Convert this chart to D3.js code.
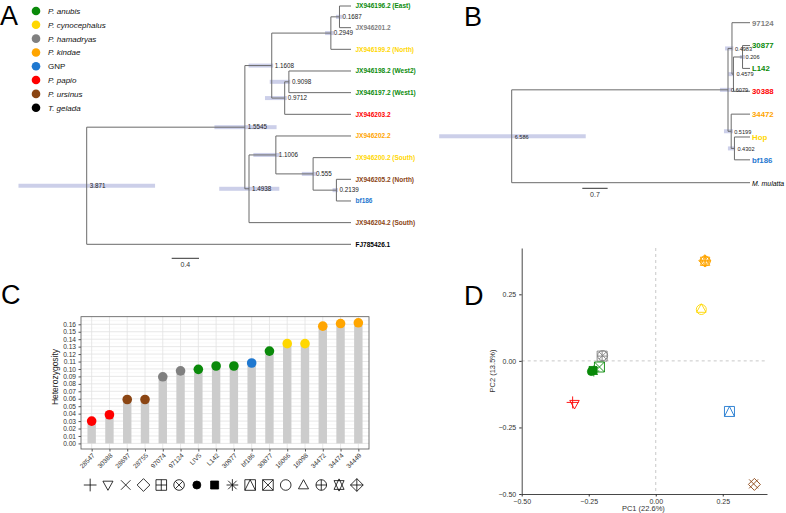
<!DOCTYPE html>
<html>
<head>
<meta charset="utf-8">
<script src="https://cdn.jsdelivr.net/npm/d3@7"></script>
<style>
body { margin: 0; background: #fff; }
svg { display: block; font-family: 'Liberation Sans', Arial, sans-serif; }
</style>
</head>
<body>
<div id="root"></div>
<script>
// groups / colours
var groupNames = ['P. anubis', 'P. cynocephalus', 'P. hamadryas', 'P. kindae', 'GNP', 'P. papio', 'P. ursinus', 'T. gelada'];
var groupColors = ['#0a8a0a', '#ffd700', '#808080', '#ffa500', '#1f78d0', '#ff0000', '#8b4513', '#000000'];

// tree A (mtDNA dated tree)
var aNode = ['r', 'a1', 'a2', 'a3', 'a4', 'a5', 'a6', 'a7', 'a8', 'a9', 'a10'];
var aNodeParent = ['', 'r', 'a1', 'a2', 'a3', 'a2', 'a5', 'a1', 'a7', 'a8', 'a9'];
var aNodeAge = [3.871, 1.5545, 1.1608, 0.2949, 0.1687, 0.9712, 0.9098, 1.4938, 1.1006, 0.555, 0.2139];
var aHpdLo = [2.87, 1.09, 1.14, 0.25, 0.12, 0.94, 0.89, 1.05, 1.04, 0.50, 0.19];
var aHpdHi = [4.87, 2.00, 1.50, 0.38, 0.22, 1.26, 1.19, 1.93, 1.43, 0.72, 0.27];
var aTip = ['JX946196.2 (East)', 'JX946201.2', 'JX946199.2 (North)', 'JX946198.2 (West2)', 'JX946197.2 (West1)', 'JX946203.2',
  'JX946202.2', 'JX946200.2 (South)', 'JX946205.2 (North)', 'bf186', 'JX946204.2 (South)', 'FJ785426.1'];
var aTipParent = ['a4', 'a4', 'a3', 'a6', 'a6', 'a5', 'a8', 'a9', 'a10', 'a10', 'a7', 'r'];
var aTipGroup = [0, 2, 1, 0, 0, 5, 3, 1, 6, 4, 6, 7];

// tree B
var bNode = ['r', 'b1', 'b2', 'b3', 'b4', 'b5', 'b6'];
var bNodeParent = ['', 'r', 'b1', 'b2', 'b3', 'b1', 'b5'];
var bNodeAge = [6.586, 0.6079, 0.4983, 0.4579, 0.206, 0.5199, 0.4302];
var bHpdLo = [4.54, 0.50, 0.46, 0.44, 0.14, 0.47, 0.41];
var bHpdHi = [8.59, 0.83, 0.69, 0.60, 0.28, 0.72, 0.61];
var bTip = ['97124', '30877', 'L142', '30388', '34472', 'Hop', 'bf186', 'M. mulatta'];
var bTipParent = ['b2', 'b4', 'b4', 'b3', 'b5', 'b6', 'b6', 'r'];
var bTipGroup = [2, 0, 0, 5, 3, 1, 4, 7];

// panel C
var cSample = ['28547', '30388', '28697', '28755', '97074', '97124', 'LIV5', 'L142', '30977', 'bf186', '30877', '16066', '16098', '34472', '34474', '34449'];
var cHet = [0.030, 0.0385, 0.059, 0.059, 0.0895, 0.0975, 0.0995, 0.104, 0.104, 0.108, 0.124, 0.134, 0.134, 0.1575, 0.161, 0.162];
var cGroup = [5, 5, 6, 6, 2, 2, 0, 0, 0, 4, 0, 1, 1, 3, 3, 3];
var cPch = [3, 6, 4, 5, 12, 13, 16, 15, 8, 14, 7, 1, 2, 10, 11, 9];

// panel D (PCA)
var dPC1 = [-0.31, -0.303, 0.365, 0.368, -0.2, -0.198, -0.24, -0.234, -0.231, 0.275, -0.21, 0.17, 0.17, 0.185, 0.184, 0.183];
var dPC2 = [-0.156, -0.162, -0.462, -0.464, 0.018, 0.02, -0.04, -0.036, -0.038, -0.19, -0.023, 0.193, 0.196, 0.375, 0.374, 0.376];
var dTicks = [-0.5, -0.25, 0, 0.25];

var W = 786, H = 513;
var svg = d3.select('#root').append('svg').attr('width', W).attr('height', H);
var fmt2 = d3.format('.2f');

// panel letters
[['A', 0, 25], ['B', 464, 26], ['C', 1, 304], ['D', 464, 305]].forEach(function(l) {
  svg.append('text').attr('x', l[1]).attr('y', l[2]).attr('font-size', 27).text(l[0]);
});

// legend
var leg = svg.append('g');
var legY = d3.scalePoint().domain(groupNames).range([11, 107.7]);
leg.selectAll('circle').data(groupNames).enter().append('circle')
  .attr('cx', 36).attr('cy', function(d) { return legY(d); }).attr('r', 4.3)
  .attr('fill', function(d, i) { return groupColors[i]; });
leg.selectAll('text').data(groupNames).enter().append('text')
  .attr('x', 48).attr('y', function(d) { return legY(d) + 3; })
  .attr('font-size', 8).attr('font-style', function(d) { return d === 'GNP' ? 'normal' : 'italic'; })
  .attr('fill', '#111').text(function(d) { return d; });

// generic dated tree
var drawTree = function(cfg) {
  var g = svg.append('g');
  var rows = cfg.node.map(function(id, i) {
    return {id: id, parent: cfg.nodeParent[i], age: cfg.nodeAge[i], lo: cfg.hpdLo[i], hi: cfg.hpdHi[i]};
  }).concat(cfg.tip.map(function(id, i) {
    return {id: id, parent: cfg.tipParent[i], age: 0, group: cfg.tipGroup[i], tip: true};
  }));
  var root = d3.stratify().id(function(d) { return d.id; })
    .parentId(function(d) { return d.parent || null; })(rows);
  var x = d3.scaleLinear().domain([cfg.nodeAge[0], 0]).range([cfg.x0, cfg.x1]);
  var y = d3.scalePoint().domain(cfg.tip).range([cfg.y0, cfg.y1]);
  root.eachAfter(function(n) {
    n.px = x(n.data.age);
    n.py = n.children ? d3.mean(n.children, function(c) { return c.py; }) : y(n.id);
  });
  var inner = root.descendants().filter(function(n) { return n.children; });
  // HPD bars
  g.selectAll('rect.hpd').data(inner).enter().append('rect')
    .attr('x', function(n) { return x(n.data.hi); })
    .attr('width', function(n) { return x(n.data.lo) - x(n.data.hi); })
    .attr('y', function(n) { return n.py - 2; }).attr('height', 4)
    .attr('fill', '#c3c7e5').attr('opacity', 0.85);
  // branches
  g.selectAll('line.h').data(root.descendants().slice(1)).enter().append('line')
    .attr('x1', function(n) { return n.parent.px; }).attr('x2', function(n) { return n.px; })
    .attr('y1', function(n) { return n.py; }).attr('y2', function(n) { return n.py; })
    .attr('stroke', '#6a6a6a').attr('stroke-width', 1);
  g.selectAll('line.v').data(inner).enter().append('line')
    .attr('x1', function(n) { return n.px; }).attr('x2', function(n) { return n.px; })
    .attr('y1', function(n) { return d3.min(n.children, function(c) { return c.py; }); })
    .attr('y2', function(n) { return d3.max(n.children, function(c) { return c.py; }); })
    .attr('stroke', '#6a6a6a').attr('stroke-width', 1);
  // node ages
  g.selectAll('text.age').data(inner).enter().append('text')
    .attr('x', function(n) { return n.px + 3; }).attr('y', function(n) { return n.py + 2.3; })
    .attr('font-size', cfg.ageSize).attr('fill', '#222')
    .text(function(n) { return n.data.age; });
  // tips
  var outgroup = function(n) { return n.data.group === 7 && cfg.italicOut; };
  g.selectAll('text.tip').data(root.leaves()).enter().append('text')
    .attr('x', cfg.x1 + cfg.gap).attr('y', function(n) { return n.py + cfg.tipSize * 0.36; })
    .attr('font-size', function(n) { return outgroup(n) ? 6.9 : cfg.tipSize; })
    .attr('font-weight', function(n) { return outgroup(n) ? 'normal' : 'bold'; })
    .attr('font-style', function(n) { return outgroup(n) ? 'italic' : 'normal'; })
    .attr('fill', function(n) { return groupColors[n.data.group]; })
    .text(function(n) { return n.id; });
  // scale bar
  var sx = x(cfg.nodeAge[0] - cfg.bar);
  g.append('line').attr('x1', cfg.barX).attr('x2', cfg.barX + sx - cfg.x0)
    .attr('y1', cfg.barY).attr('y2', cfg.barY).attr('stroke', '#333');
  g.append('text').attr('x', cfg.barX + (sx - cfg.x0) / 2).attr('y', cfg.barY + 9)
    .attr('text-anchor', 'middle').attr('font-size', 7).attr('fill', '#333').text(cfg.bar);
};

drawTree({node: aNode, nodeParent: aNodeParent, nodeAge: aNodeAge, hpdLo: aHpdLo, hpdHi: aHpdHi,
  tip: aTip, tipParent: aTipParent, tipGroup: aTipGroup,
  x0: 86.7, x1: 351, y0: 6, y1: 244.3, gap: 4.5, tipSize: 6.5, ageSize: 6.3,
  bar: 0.4, barX: 171.7, barY: 258.3, italicOut: false});

drawTree({node: bNode, nodeParent: bNodeParent, nodeAge: bNodeAge, hpdLo: bHpdLo, hpdHi: bHpdHi,
  tip: bTip, tipParent: bTipParent, tipGroup: bTipGroup,
  x0: 511.7, x1: 750, y0: 22.7, y1: 182.7, gap: 2, tipSize: 7.8, ageSize: 5.6,
  bar: 0.7, barX: 582.3, barY: 188.3, italicOut: true});

// R-like plotting symbols
var pchPath = function(type, r) {
  var p = d3.path();
  var tri = function(s) {
    p.moveTo(0, -s * r); p.lineTo(0.95 * r, s * 0.72 * r); p.lineTo(-0.95 * r, s * 0.72 * r); p.closePath();
  };
  var sq = function() { p.rect(-r, -r, 2 * r, 2 * r); };
  var circ = function() { p.moveTo(r, 0); p.arc(0, 0, r, 0, 2 * Math.PI); };
  var plus = function(k) { p.moveTo(-k, 0); p.lineTo(k, 0); p.moveTo(0, -k); p.lineTo(0, k); };
  var cross = function(k) { p.moveTo(-k, -k); p.lineTo(k, k); p.moveTo(-k, k); p.lineTo(k, -k); };
  var dia = function() { p.moveTo(0, -r * 1.2); p.lineTo(r * 1.2, 0); p.lineTo(0, r * 1.2); p.lineTo(-r * 1.2, 0); p.closePath(); };
  if (type === 1 || type === 16) circ();
  if (type === 2) tri(1);
  if (type === 3) plus(r * 1.2);
  if (type === 4) cross(r * 0.9);
  if (type === 5) dia();
  if (type === 6) tri(-1);
  if (type === 7) { sq(); cross(r); }
  if (type === 8) { plus(r * 1.1); cross(r * 0.8); }
  if (type === 9) { dia(); plus(r * 1.2); }
  if (type === 10) { circ(); plus(r); }
  if (type === 11) { tri(1.15); tri(-1.15); }
  if (type === 12) { sq(); plus(r); }
  if (type === 13) { circ(); cross(r * 0.707); }
  if (type === 14) { sq(); p.moveTo(-r, r); p.lineTo(0, -r); p.lineTo(r, r); }
  if (type === 15) sq();
  return p.toString();
};
var isFilled = function(t) { return t === 15 || t === 16; };

// panel C
var cL = 81, cR = 369, cT = 316.7, cB = 449;
var xC = d3.scalePoint().domain(cSample).range([cL, cR]).padding(0.6);
var yC = d3.scaleLinear().domain([-0.0075, 0.1702]).range([cB, cT]);
var gC = svg.append('g');
gC.append('rect').attr('x', cL).attr('y', cT).attr('width', cR - cL).attr('height', cB - cT).attr('fill', '#fff');
gC.selectAll('line.minor').data(d3.range(0, 17).map(function(i) { return i / 100 + 0.005; })).enter().append('line')
  .attr('x1', cL).attr('x2', cR).attr('y1', function(d) { return yC(d); }).attr('y2', function(d) { return yC(d); })
  .attr('stroke', '#f0f0f0').attr('stroke-width', 0.5);
gC.selectAll('line.major').data(d3.range(0, 17).map(function(i) { return i / 100; })).enter().append('line')
  .attr('x1', cL).attr('x2', cR).attr('y1', function(d) { return yC(d); }).attr('y2', function(d) { return yC(d); })
  .attr('stroke', '#e2e2e2').attr('stroke-width', 0.8);
gC.selectAll('line.vg').data(cSample).enter().append('line')
  .attr('x1', function(d) { return xC(d); }).attr('x2', function(d) { return xC(d); })
  .attr('y1', cT).attr('y2', cB).attr('stroke', '#e2e2e2').attr('stroke-width', 0.8);
gC.selectAll('rect.bar').data(cSample).enter().append('rect')
  .attr('x', function(d) { return xC(d) - 4.2; }).attr('width', 8.4)
  .attr('y', function(d, i) { return yC(cHet[i]); })
  .attr('height', function(d, i) { return yC(0) - yC(cHet[i]); })
  .attr('fill', '#cccccc');
gC.selectAll('circle').data(cSample).enter().append('circle')
  .attr('cx', function(d) { return xC(d); }).attr('cy', function(d, i) { return yC(cHet[i]); })
  .attr('r', 4.8).attr('fill', function(d, i) { return groupColors[cGroup[i]]; });
gC.append('rect').attr('x', cL).attr('y', cT).attr('width', cR - cL).attr('height', cB - cT)
  .attr('fill', 'none').attr('stroke', '#555').attr('stroke-width', 0.8);
var yAxC = gC.append('g').attr('transform', 'translate(' + cL + ',0)')
  .call(d3.axisLeft(yC).tickValues(d3.range(0, 17).map(function(i) { return i / 100; }))
    .tickFormat(fmt2).tickSize(2.5).tickSizeOuter(0));
yAxC.select('.domain').remove();
yAxC.selectAll('text').attr('font-size', 6.6).attr('fill', '#333').attr('dx', 0.5).attr('font-family', null);
yAxC.selectAll('line').attr('stroke', '#555');
var xAxC = gC.append('g').attr('transform', 'translate(0,' + cB + ')')
  .call(d3.axisBottom(xC).tickSize(2.5).tickSizeOuter(0));
xAxC.select('.domain').remove();
xAxC.selectAll('line').attr('stroke', '#555');
xAxC.selectAll('text').attr('font-size', 6.5).attr('fill', '#333').attr('font-family', null)
  .attr('text-anchor', 'end').attr('dy', null).attr('y', 0)
  .attr('transform', 'translate(3,7) rotate(-45)');
gC.append('text').attr('transform', 'translate(58,377) rotate(-90)').attr('text-anchor', 'middle')
  .attr('font-size', 8.5).attr('fill', '#222').text('Heterozygosity');
gC.selectAll('path.key').data(cSample).enter().append('path')
  .attr('transform', function(d) { return 'translate(' + (xC(d) - 1.5) + ',485)'; })
  .attr('d', function(d, i) { return pchPath(cPch[i], isFilled(cPch[i]) ? 4 : 5.3); })
  .attr('fill', function(d, i) { return isFilled(cPch[i]) ? '#000' : 'none'; })
  .attr('stroke', '#000').attr('stroke-width', 0.8);

// panel D
var dL = 521.7, dR = 767, dT = 248, dB = 494;
var xD = d3.scaleLinear().domain([-0.5, 0.415]).range([dL, dR]);
var yD = d3.scaleLinear().domain([-0.5, 0.424]).range([dB, dT]);
var gD = svg.append('g');
gD.append('line').attr('x1', xD(0)).attr('x2', xD(0)).attr('y1', dT).attr('y2', dB)
  .attr('stroke', '#c8c8c8').attr('stroke-dasharray', '3,3');
gD.append('line').attr('x1', dL).attr('x2', dR).attr('y1', yD(0)).attr('y2', yD(0))
  .attr('stroke', '#c8c8c8').attr('stroke-dasharray', '3,3');
var xAxD = gD.append('g').attr('transform', 'translate(0,' + dB + ')')
  .call(d3.axisBottom(xD).tickValues(dTicks).tickFormat(fmt2).tickSize(2.5).tickSizeOuter(0));
var yAxD = gD.append('g').attr('transform', 'translate(' + dL + ',0)')
  .call(d3.axisLeft(yD).tickValues(dTicks).tickFormat(fmt2).tickSize(2.5).tickSizeOuter(0));
[xAxD, yAxD].forEach(function(a) {
  a.select('.domain').attr('stroke', '#333').attr('stroke-width', 0.9);
  a.selectAll('line').attr('stroke', '#333');
  a.selectAll('text').attr('font-size', 7).attr('fill', '#333').attr('font-family', null);
});
gD.append('text').attr('x', (dL + dR) / 2 - 1).attr('y', 511).attr('text-anchor', 'middle')
  .attr('font-size', 7.5).attr('fill', '#333').text('PC1 (22.6%)');
gD.append('text').attr('transform', 'translate(495,' + ((dT + dB) / 2) + ') rotate(-90)')
  .attr('text-anchor', 'middle').attr('font-size', 7.5).attr('fill', '#333').text('PC2 (13.5%)');
gD.selectAll('path.pt').data(cSample).enter().append('path')
  .attr('transform', function(d, i) { return 'translate(' + xD(dPC1[i]) + ',' + yD(dPC2[i]) + ')'; })
  .attr('d', function(d, i) { return pchPath(cPch[i], isFilled(cPch[i]) ? 4 : 5); })
  .attr('fill', function(d, i) { return isFilled(cPch[i]) ? groupColors[cGroup[i]] : 'none'; })
  .attr('stroke', function(d, i) { return groupColors[cGroup[i]]; }).attr('stroke-width', 0.9);
</script>
</body>
</html>
